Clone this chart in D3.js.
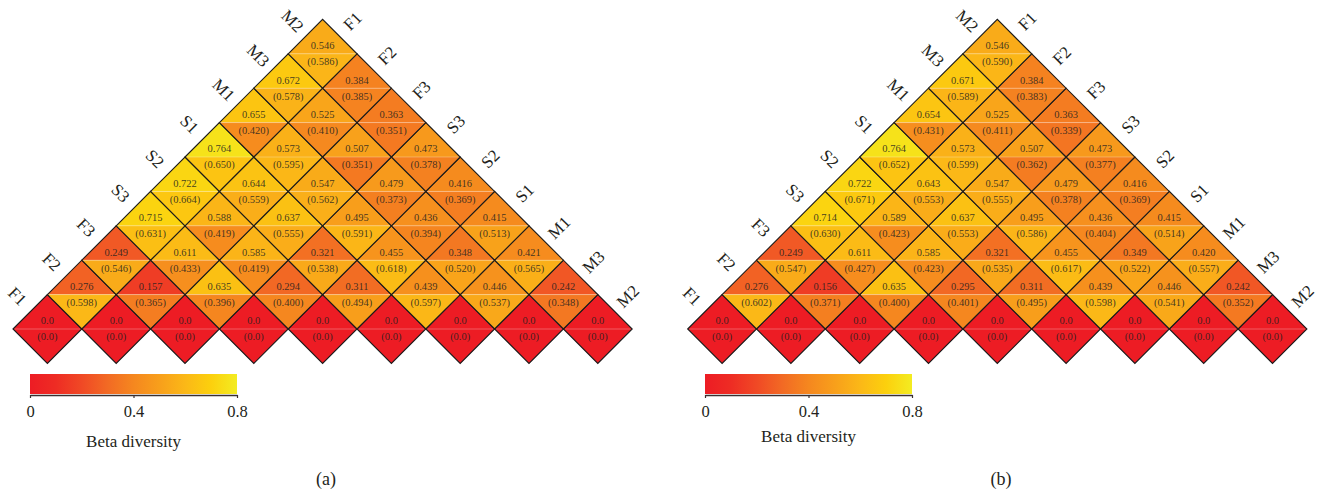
<!DOCTYPE html>
<html>
<head>
<meta charset="utf-8">
<script src="https://cdn.jsdelivr.net/npm/d3@7"></script>
<style>
  html, body { margin: 0; padding: 0; background: #fff; }
  svg { display: block; }
  svg text { font-family: "Liberation Serif", "DejaVu Serif", serif !important; }
</style>
</head>
<body>
<svg id="chart" width="1324" height="494" font-family="Liberation Serif, DejaVu Serif, serif"></svg>
<script>
// ---- data ----
const samples = ["F1", "F2", "F3", "S3", "S2", "S1", "M1", "M3", "M2"];

// rows by distance d = j - i (row 0 = diagonal), left to right
const panelA_top = [
  [0, 0, 0, 0, 0, 0, 0, 0, 0],
  [0.276, 0.157, 0.635, 0.294, 0.311, 0.439, 0.446, 0.242],
  [0.249, 0.611, 0.585, 0.321, 0.455, 0.348, 0.421],
  [0.715, 0.588, 0.637, 0.495, 0.436, 0.415],
  [0.722, 0.644, 0.547, 0.479, 0.416],
  [0.764, 0.573, 0.507, 0.473],
  [0.655, 0.525, 0.363],
  [0.672, 0.384],
  [0.546]
];
const panelA_bottom = [
  [0, 0, 0, 0, 0, 0, 0, 0, 0],
  [0.598, 0.365, 0.396, 0.400, 0.494, 0.597, 0.537, 0.348],
  [0.546, 0.433, 0.419, 0.538, 0.618, 0.520, 0.565],
  [0.631, 0.419, 0.555, 0.591, 0.394, 0.513],
  [0.664, 0.559, 0.562, 0.373, 0.369],
  [0.650, 0.595, 0.351, 0.378],
  [0.420, 0.410, 0.351],
  [0.578, 0.385],
  [0.586]
];
const panelB_top = [
  [0, 0, 0, 0, 0, 0, 0, 0, 0],
  [0.276, 0.156, 0.635, 0.295, 0.311, 0.439, 0.446, 0.242],
  [0.249, 0.611, 0.585, 0.321, 0.455, 0.349, 0.420],
  [0.714, 0.589, 0.637, 0.495, 0.436, 0.415],
  [0.722, 0.643, 0.547, 0.479, 0.416],
  [0.764, 0.573, 0.507, 0.473],
  [0.654, 0.525, 0.363],
  [0.671, 0.384],
  [0.546]
];
const panelB_bottom = [
  [0, 0, 0, 0, 0, 0, 0, 0, 0],
  [0.602, 0.371, 0.400, 0.401, 0.495, 0.598, 0.541, 0.352],
  [0.547, 0.427, 0.423, 0.535, 0.617, 0.522, 0.557],
  [0.630, 0.423, 0.553, 0.586, 0.404, 0.514],
  [0.671, 0.553, 0.555, 0.378, 0.369],
  [0.652, 0.599, 0.362, 0.377],
  [0.431, 0.411, 0.339],
  [0.589, 0.383],
  [0.590]
];
const colorStops = [0, 0.1, 0.2, 0.3, 0.4, 0.5, 0.6, 0.7, 0.8];
const colorRange = ["#ED1C24", "#EE2C24", "#F04925", "#F26A24", "#F5871F", "#F89F1B", "#FBB817", "#FCD00D", "#F3EC22"];
const legendTicks = [0, 0.4, 0.8];
const legendTitle = "Beta diversity";
const panelLabels = ["(a)", "(b)"];

// ---- drawing ----
const FONT = "Liberation Serif, DejaVu Serif, serif";
const svg = d3.select("#chart");
const color = d3.scaleLinear().domain(colorStops).range(colorRange).clamp(true);
const fmt = d3.format(".3f");

const defs = svg.append("defs");
const grad = defs.append("linearGradient").attr("id", "cbar").attr("x1", "0%").attr("x2", "100%");
colorStops.forEach((s, k) => {
  grad.append("stop").attr("offset", (s / 0.8 * 100) + "%").attr("stop-color", colorRange[k]);
});

const panels = [
  { top: panelA_top, bottom: panelA_bottom, x0: 13, legX: 30, legTitleY: 443, label: panelLabels[0], labelX: 326 },
  { top: panelB_top, bottom: panelB_bottom, x0: 687.7, legX: 705, legTitleY: 438, label: panelLabels[1], labelX: 1001 }
];

const n = samples.length;
const cellW = 68.8;
const baseY = 329;

panels.forEach(p => {
  const g = svg.append("g");
  const x = d3.scaleLinear().domain([0, n]).range([p.x0, p.x0 + n * cellW]);
  const y = d3.scaleLinear().domain([0, n - 1]).range([baseY, baseY - (n - 1) * cellW / 2]);
  const hw = cellW / 2;

  const cells = [];
  p.top.forEach((row, d) => {
    row.forEach((v, i) => {
      const j = i + d;
      cells.push({ i, j, d, top: v, bottom: p.bottom[d][i], cx: x((i + j) / 2 + 0.5), cy: y(d) });
    });
  });

  const cg = g.selectAll("g.cell").data(cells).enter().append("g").attr("class", "cell");
  cg.append("path")
    .attr("d", c => `M${c.cx - hw},${c.cy}L${c.cx},${c.cy - hw}L${c.cx + hw},${c.cy}Z`)
    .attr("fill", c => color(c.top));
  cg.append("path")
    .attr("d", c => `M${c.cx - hw},${c.cy}L${c.cx},${c.cy + hw}L${c.cx + hw},${c.cy}Z`)
    .attr("fill", c => color(c.bottom));
  cg.append("line")
    .attr("x1", c => c.cx - hw).attr("x2", c => c.cx + hw)
    .attr("y1", c => c.cy).attr("y2", c => c.cy)
    .attr("stroke", "#fff").attr("stroke-opacity", 0.28).attr("stroke-width", 1);
  cg.append("path")
    .attr("d", c => `M${c.cx - hw},${c.cy}L${c.cx},${c.cy - hw}L${c.cx + hw},${c.cy}L${c.cx},${c.cy + hw}Z`)
    .attr("fill", "none").attr("stroke", "#1a1a1a").attr("stroke-width", 1.1);
  cg.append("text")
    .attr("x", c => c.cx).attr("y", c => c.cy - 7)
    .attr("text-anchor", "middle").attr("dominant-baseline", "middle")
    .attr("font-family", FONT)
    .attr("font-size", 10.5).attr("fill", "#231f20").attr("fill-opacity", 0.85)
    .text(c => c.d === 0 ? "0.0" : fmt(c.top));
  cg.append("text")
    .attr("x", c => c.cx).attr("y", c => c.cy + 9)
    .attr("text-anchor", "middle").attr("dominant-baseline", "middle")
    .attr("font-family", FONT)
    .attr("font-size", 10.5).attr("fill", "#231f20").attr("fill-opacity", 0.85)
    .text(c => c.d === 0 ? "(0.0)" : "(" + fmt(c.bottom) + ")");

  const off = 20 / Math.SQRT2;
  samples.forEach((s, d) => {
    const cx = x(d / 2 + 0.5), cy = y(d);
    const mx = cx - hw / 2, my = cy - hw / 2;
    g.append("text")
      .attr("transform", `translate(${mx - off},${my - off}) rotate(45)`)
      .attr("text-anchor", "middle").attr("dominant-baseline", "middle")
      .attr("font-family", FONT)
      .attr("font-size", 17).attr("fill", "#231f20")
      .text(s);
  });
  samples.forEach((s, i) => {
    const d = n - 1 - i;
    const cx = x((i + n - 1) / 2 + 0.5), cy = y(d);
    const mx = cx + hw / 2, my = cy - hw / 2;
    g.append("text")
      .attr("transform", `translate(${mx + off},${my - off}) rotate(-45)`)
      .attr("text-anchor", "middle").attr("dominant-baseline", "middle")
      .attr("font-family", FONT)
      .attr("font-size", 17).attr("fill", "#231f20")
      .text(s);
  });

  const legW = 207, legY = 374, legH = 20;
  g.append("rect").attr("x", p.legX).attr("y", legY).attr("width", legW).attr("height", legH)
    .attr("fill", "url(#cbar)");
  const lx = d3.scaleLinear().domain([0, 0.8]).range([p.legX, p.legX + legW]);
  const ax = g.append("g").attr("transform", `translate(0,${legY + legH + 1})`)
    .call(d3.axisBottom(lx).tickValues(legendTicks).tickSize(3).tickSizeOuter(0).tickFormat(d => d === 0 ? "0" : d3.format(".1f")(d)));
  ax.attr("font-family", FONT);
  ax.select(".domain").attr("stroke", "#3a3030").attr("stroke-width", 1.5);
  ax.selectAll(".tick line").attr("stroke", "#3a3030").attr("stroke-width", 1.2);
  ax.selectAll(".tick text").attr("font-family", FONT)
    .attr("font-size", 16.5).attr("fill", "#231f20").attr("dy", "0.95em");
  g.append("text").attr("x", p.legX + legW / 2).attr("y", p.legTitleY)
    .attr("text-anchor", "middle").attr("dominant-baseline", "middle")
    .attr("font-family", FONT)
    .attr("font-size", 17).attr("fill", "#231f20").text(legendTitle);

  g.append("text").attr("x", p.labelX).attr("y", 481)
    .attr("text-anchor", "middle").attr("dominant-baseline", "middle")
    .attr("font-family", FONT)
    .attr("font-size", 18).attr("fill", "#231f20").text(p.label);
});
</script>
</body>
</html>
